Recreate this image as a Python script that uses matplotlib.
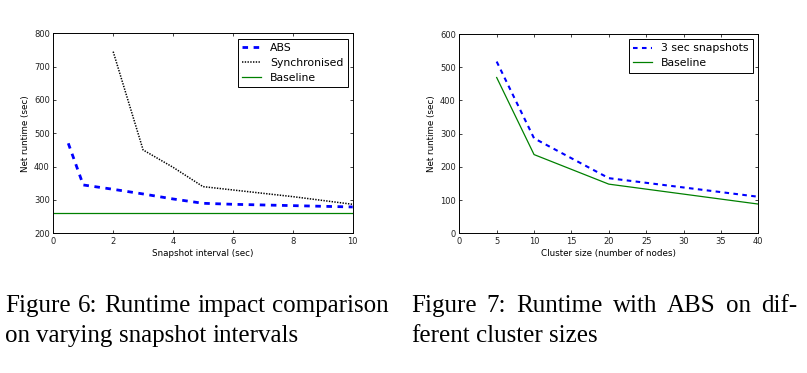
import matplotlib
matplotlib.use("Agg")
import matplotlib.pyplot as plt

# Figure 6 data: runtime vs snapshot interval
abs_x = [0.5, 1, 2, 3, 4, 5, 6, 8, 10]
abs_y = [470, 345, 332, 318, 303, 290, 287, 283, 279]
sync_x = [2, 3, 4, 5, 6, 8, 10]
sync_y = [745, 450, 398, 340, 330, 310, 287]
base_x = [0, 10]
base_y = [260, 260]

# Figure 7 data: runtime vs cluster size
cluster_x = [5, 10, 20, 30, 40]
snap_y = [517, 286, 166, 138, 110]
cbase_y = [469, 237, 148, 118, 88]

captions = [
    ["Figure 6: Runtime impact comparison", "on varying snapshot intervals"],
    ["Figure 7: Runtime with ABS on dif-", "ferent cluster sizes"],
]

W, H = 807, 373
fig = plt.figure(figsize=(W / 100, H / 100), dpi=100)


def axes_px(x0, y0, x1, y1):
    return fig.add_axes([x0 / W, 1 - y1 / H, (x1 - x0) / W, (y1 - y0) / H])


def style(ax):
    ax.tick_params(direction="in", top=True, right=True, length=2.5,
                   width=0.6, labelsize=6, pad=2.5, colors="#222222")
    for s in ax.spines.values():
        s.set_linewidth(0.7)


leg_kw = dict(loc="upper right", borderaxespad=0, fontsize=7.8, fancybox=False,
              edgecolor="black", framealpha=1, handlelength=1.7,
              handletextpad=0.85, labelspacing=0.45, borderpad=0.4)

ax1 = axes_px(53.3, 33.3, 352.7, 233.3)
ax1.plot(abs_x, abs_y, color="#0000ff", lw=2.0, dashes=(2, 2), label="ABS")
ax1.plot(sync_x, sync_y, color="black", lw=1.1, dashes=(0.9, 0.9), label="Synchronised")
ax1.plot(base_x, base_y, color="#008000", lw=0.9, label="Baseline")
ax1.set_xlim(0, 10)
ax1.set_ylim(200, 800)
ax1.set_xticks(range(0, 11, 2))
ax1.set_yticks(range(200, 801, 100))
ax1.set_xlabel("Snapshot interval (sec)", fontsize=6.3, labelpad=2)
ax1.set_ylabel("Net runtime (sec)", fontsize=6.3, labelpad=3)
style(ax1)
leg = ax1.legend(bbox_to_anchor=(0.983, 0.972), **leg_kw)
leg.get_frame().set_linewidth(0.7)

ax2 = axes_px(459.3, 34, 758.3, 233.3)
ax2.plot(cluster_x, snap_y, color="#0000ff", lw=1.5, dashes=(2.2, 2.1), label="3 sec snapshots")
ax2.plot(cluster_x, cbase_y, color="#008000", lw=0.9, label="Baseline")
ax2.set_xlim(0, 40)
ax2.set_ylim(0, 600)
ax2.set_xticks(range(0, 41, 5))
ax2.set_yticks(range(0, 601, 100))
ax2.set_xlabel("Cluster size (number of nodes)", fontsize=6.3, labelpad=2)
ax2.set_ylabel("Net runtime (sec)", fontsize=6.3, labelpad=3)
style(ax2)
leg = ax2.legend(bbox_to_anchor=(0.981, 0.975), **leg_kw)
leg.get_frame().set_linewidth(0.7)

# captions, justified like the paper's two-column layout
renderer = fig.canvas.get_renderer()
cols = [(5, 389), (411, 797)]
baselines = [311.7, 341.7]
cap_kw = dict(fontsize=18.0, family="Liberation Serif", va="baseline", ha="left")


def text_width(s):
    t = fig.text(0, 0, s, **cap_kw)
    w = t.get_window_extent(renderer).width
    t.remove()
    return w


space = text_width("a a") - 2 * text_width("a")
for (x0, x1), lines in zip(cols, captions):
    for i, line in enumerate(lines):
        words = line.split()
        texts = [fig.text(0, 1 - baselines[i] / H, w, **cap_kw) for w in words]
        widths = [t.get_window_extent(renderer).width for t in texts]
        gap = space
        if i < len(lines) - 1 and len(words) > 1:
            gap = max((x1 - x0 - sum(widths)) / (len(words) - 1), space * 0.6)
        x = x0
        for t, w in zip(texts, widths):
            t.set_x(x / W)
            x += w + gap

fig.savefig("out.png", dpi=100)
